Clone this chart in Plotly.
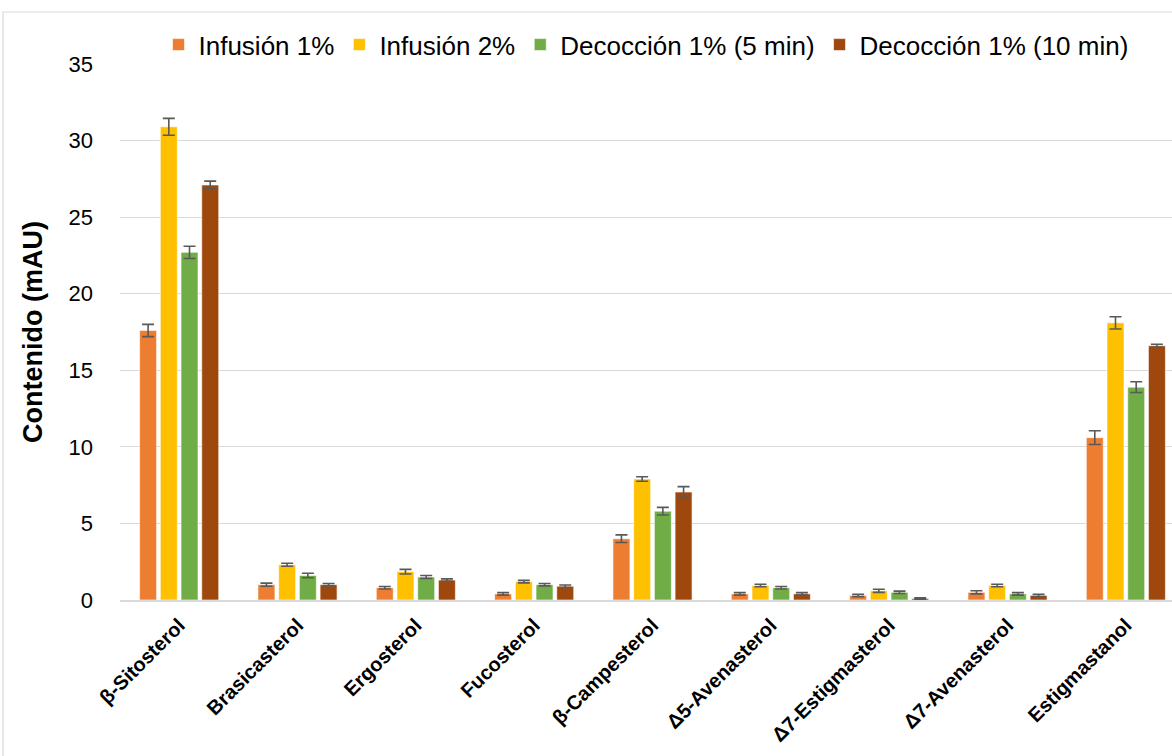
import plotly.graph_objects as go

categories = ["β-Sitosterol", "Brasicasterol", "Ergosterol", "Fucosterol", "β-Campesterol",
              "Δ5-Avenasterol", "Δ7-Estigmasterol", "Δ7-Avenasterol", "Estigmastanol"]

series_names = ["Infusión 1%", "Infusión 2%", "Decocción 1% (5 min)", "Decocción 1% (10 min)"]

infusion_1 = [17.6, 1.0, 0.8, 0.4, 4.0, 0.4, 0.3, 0.5, 10.6]
infusion_2 = [30.9, 2.3, 1.85, 1.2, 7.9, 0.95, 0.6, 0.95, 18.1]
decoccion_5 = [22.7, 1.6, 1.5, 1.0, 5.8, 0.8, 0.5, 0.4, 13.9]
decoccion_10 = [27.1, 1.0, 1.3, 0.9, 7.05, 0.4, 0.1, 0.3, 16.6]

err_infusion_1 = [0.4, 0.1, 0.08, 0.08, 0.25, 0.08, 0.08, 0.1, 0.45]
err_infusion_2 = [0.55, 0.1, 0.15, 0.08, 0.15, 0.08, 0.1, 0.08, 0.4]
err_decoccion_5 = [0.4, 0.15, 0.1, 0.08, 0.25, 0.08, 0.08, 0.08, 0.35]
err_decoccion_10 = [0.25, 0.08, 0.08, 0.08, 0.35, 0.08, 0.05, 0.08, 0.1]

values = [infusion_1, infusion_2, decoccion_5, decoccion_10]
errors = [err_infusion_1, err_infusion_2, err_decoccion_5, err_decoccion_10]
colors = ["#ED7D31", "#FFC000", "#70AD47", "#9E480E"]

FONT = "Liberation Sans, Arial, sans-serif"

fig = go.Figure()
for name, vals, errs, col in zip(series_names, values, errors, colors):
    fig.add_trace(go.Bar(
        x=categories, y=vals, name=name,
        marker=dict(color=col, line=dict(color="rgba(255,255,255,0.6)", width=1)),
        error_y=dict(type="data", array=errs, visible=True,
                     color="#595959", thickness=1.6, width=6),
    ))

fig.update_layout(
    width=1172, height=756,
    margin=dict(l=120, r=0, t=64, b=156, autoexpand=False),
    paper_bgcolor="white", plot_bgcolor="white",
    barmode="group", bargap=0.3, bargroupgap=0.18,
    font=dict(family=FONT, color="#000000"),
    legend=dict(orientation="h", x=0.5, xanchor="center", y=1.036, yanchor="middle",
                font=dict(size=26), itemwidth=30, traceorder="normal",
                bgcolor="rgba(0,0,0,0)"),
    showlegend=True,
)

fig.update_xaxes(
    range=[-0.5, 8.39], tickangle=-45,
    tickfont=dict(size=20, family=FONT, weight="bold"),
    showgrid=False, showline=True, linecolor="#D9D9D9", linewidth=1.5,
    ticks="", ticklabelstandoff=4,
)

fig.update_yaxes(
    range=[0, 35], dtick=5, tickfont=dict(size=22),
    showgrid=True, gridcolor="#D9D9D9", gridwidth=1.2,
    zeroline=False, showline=False, ticks="", ticklabelstandoff=26,
    title=dict(text="<b>Contenido (mAU)</b>", font=dict(size=27), standoff=18),
)

# Outer chart frame
fig.add_shape(type="rect", xref="paper", yref="paper",
              x0=-0.1112, x1=1.05, y0=-0.5, y1=1.097,
              line=dict(color="#D9D9D9", width=1.2), fillcolor="rgba(0,0,0,0)")

fig.write_html("out.html")
